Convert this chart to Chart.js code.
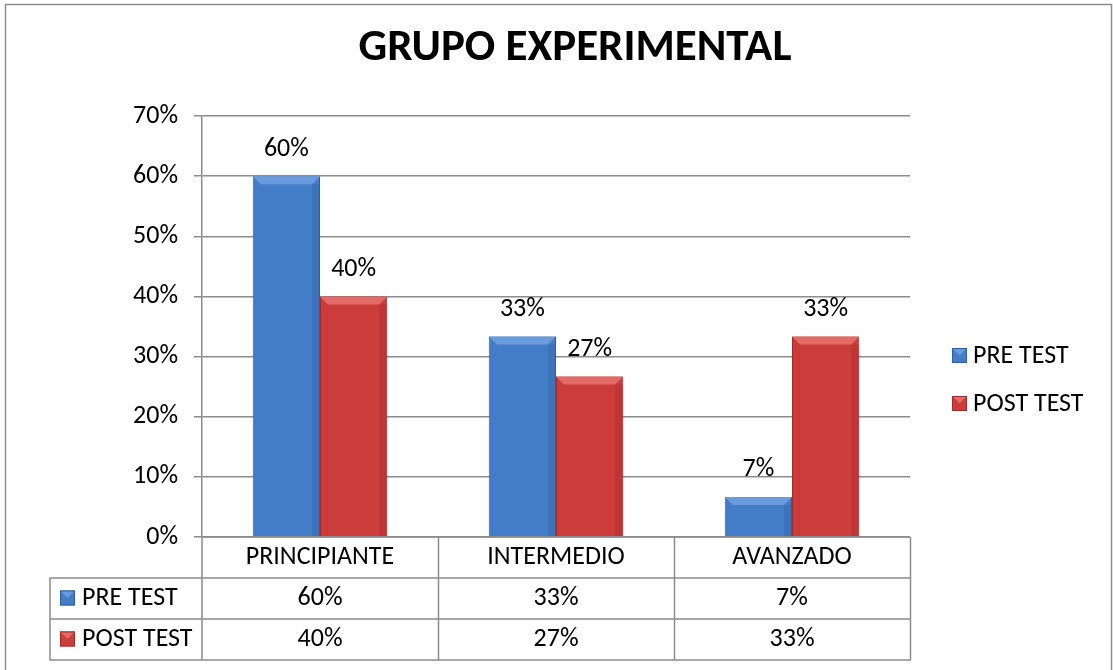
<!DOCTYPE html>
<html>
<head>
<meta charset="utf-8">
<script src="https://cdn.jsdelivr.net/npm/chart.js@4/dist/chart.umd.min.js"></script>
<style>
  html, body { margin: 0; padding: 0; background: #fff; }
  #wrap { width: 1113px; height: 670px; }
</style>
</head>
<body>
<div id="wrap"><canvas id="grupoChart" width="1113" height="670"></canvas></div>
<script>
// data
const categories = ['PRINCIPIANTE', 'INTERMEDIO', 'AVANZADO'];
const seriesNames = ['PRE TEST', 'POST TEST'];
const preTest = [60, 33.33, 6.67];
const postTest = [40, 26.67, 33.33];
const yTicks = [0, 10, 20, 30, 40, 50, 60, 70];
const titleText = 'GRUPO EXPERIMENTAL';

const FONT = 'Carlito, Lato, "Open Sans", sans-serif';
const TXT = 26;
const colors = {
    pre: { mid: '#437dc8', light: '#6a9bdc', dark: '#2f5e9f' },
    post: { mid: '#cc3c3a', light: '#e36a66', dark: '#9f2b2a' }
};
const lineGray = '#8c8c8c';

function pct(v) { return Math.round(v) + '%'; }

// horizontal gradient for each bar, darker at the sides
function barFill(c) {
    return function (ctx) {
        const el = ctx.element;
        if (!el || el.x === undefined) return c.mid;
        const w = el.width || 60;
        const g = ctx.chart.ctx.createLinearGradient(el.x - w / 2, 0, el.x + w / 2, 0);
        g.addColorStop(0, c.dark);
        g.addColorStop(0.1, c.mid);
        g.addColorStop(0.9, c.mid);
        g.addColorStop(1, c.dark);
        return g;
    };
}

// small bevel look on top of bars
function drawBevel(ctx, left, top, right, bottom, c) {
    const b = Math.min(8, (bottom - top) / 2);
    ctx.save();
    ctx.fillStyle = c.light;
    ctx.beginPath();
    ctx.moveTo(left, top);
    ctx.lineTo(right, top);
    ctx.lineTo(right - b, top + b);
    ctx.lineTo(left + b, top + b);
    ctx.closePath();
    ctx.fill();
    ctx.globalAlpha = 0.3;
    ctx.fillStyle = c.dark;
    ctx.fillRect(right - b, top + b, b, bottom - top - b);
    ctx.restore();
}

const framePlugin = {
    id: 'frame',
    beforeDraw(chart) {
        const ctx = chart.ctx;
        ctx.save();
        ctx.fillStyle = '#fff';
        ctx.fillRect(0, 0, chart.width, chart.height);
        ctx.strokeStyle = lineGray;
        ctx.lineWidth = 1.5;
        ctx.strokeRect(5.5, 4.5, chart.width - 7, chart.height + 10);
        ctx.font = 'bold 45px ' + FONT;
        ctx.fillStyle = '#000';
        ctx.textAlign = 'center';
        ctx.textBaseline = 'middle';
        ctx.fillText(titleText, 575, 49);
        ctx.restore();
    }
};

const bevelPlugin = {
    id: 'bevel',
    afterDatasetsDraw(chart) {
        const ctx = chart.ctx;
        chart.data.datasets.forEach(function (ds, i) {
            const c = i === 0 ? colors.pre : colors.post;
            chart.getDatasetMeta(i).data.forEach(function (bar) {
                const p = bar.getProps(['x', 'y', 'base', 'width'], true);
                drawBevel(ctx, p.x - p.width / 2, p.y, p.x + p.width / 2, p.base, c);
            });
        });
    }
};

const labelPlugin = {
    id: 'barLabels',
    afterDatasetsDraw(chart) {
        const ctx = chart.ctx;
        ctx.save();
        ctx.font = TXT + 'px ' + FONT;
        ctx.fillStyle = '#000';
        ctx.textAlign = 'center';
        ctx.textBaseline = 'middle';
        chart.data.datasets.forEach(function (ds, i) {
            chart.getDatasetMeta(i).data.forEach(function (bar, j) {
                ctx.fillText(pct(ds.data[j]), bar.x, bar.y - 27);
            });
        });
        ctx.restore();
    }
};

function legendSwatch(ctx, x, y, s, c) {
    ctx.save();
    ctx.fillStyle = c.mid;
    ctx.fillRect(x, y, s, s);
    ctx.fillStyle = c.light;
    ctx.beginPath();
    ctx.moveTo(x, y);
    ctx.lineTo(x + s, y);
    ctx.lineTo(x + s / 2, y + s / 2);
    ctx.closePath();
    ctx.fill();
    ctx.strokeStyle = c.dark;
    ctx.lineWidth = 1;
    ctx.strokeRect(x + 0.5, y + 0.5, s - 1, s - 1);
    ctx.restore();
}

const tablePlugin = {
    id: 'dataTable',
    afterDraw(chart) {
        const ctx = chart.ctx;
        const xs = chart.scales.x;
        const area = chart.chartArea;
        const rowH = 41;
        const top = area.bottom;
        const rows = [top, top + rowH, top + rowH * 2, top + rowH * 3];
        const left = 50;
        const colW = (area.right - area.left) / categories.length;

        ctx.save();
        ctx.strokeStyle = lineGray;
        ctx.lineWidth = 1.5;
        ctx.beginPath();
        ctx.moveTo(area.left, rows[0]); ctx.lineTo(area.right, rows[0]);
        for (let r = 1; r < rows.length; r++) {
            ctx.moveTo(left, rows[r]); ctx.lineTo(area.right, rows[r]);
        }
        ctx.moveTo(left, rows[1]); ctx.lineTo(left, rows[3]);
        ctx.moveTo(area.left, rows[0]); ctx.lineTo(area.left, rows[3]);
        for (let k = 1; k <= categories.length; k++) {
            const x = Math.round(area.left + colW * k) + 0.5;
            ctx.moveTo(x, rows[0]); ctx.lineTo(x, rows[3]);
        }
        ctx.stroke();

        ctx.font = TXT + 'px ' + FONT;
        ctx.fillStyle = '#000';
        ctx.textBaseline = 'middle';
        ctx.textAlign = 'center';
        categories.forEach(function (cat, j) {
            const cx = xs.getPixelForValue(j);
            ctx.fillText(cat, cx, rows[0] + rowH / 2);
            ctx.fillText(pct(preTest[j]), cx, rows[1] + rowH / 2);
            ctx.fillText(pct(postTest[j]), cx, rows[2] + rowH / 2);
        });
        ctx.textAlign = 'left';
        [colors.pre, colors.post].forEach(function (c, i) {
            const cy = rows[i + 1] + rowH / 2;
            legendSwatch(ctx, 60, cy - 8, 15, c);
            ctx.fillStyle = '#000';
            ctx.fillText(seriesNames[i], 82, cy);
        });

        // legend at the right
        [colors.pre, colors.post].forEach(function (c, i) {
            const cy = 356 + i * 48;
            legendSwatch(ctx, 952, cy - 8, 15, c);
            ctx.fillStyle = '#000';
            ctx.fillText(seriesNames[i], 973, cy);
        });
        ctx.restore();
    }
};

const ctx = document.getElementById('grupoChart').getContext('2d');
const grupoChart = new Chart(ctx, {
    type: 'bar',
    data: {
        labels: categories,
        datasets: [{
            label: seriesNames[0],
            data: preTest,
            backgroundColor: barFill(colors.pre),
            borderColor: colors.pre.dark,
            borderWidth: 1
        }, {
            label: seriesNames[1],
            data: postTest,
            backgroundColor: barFill(colors.post),
            borderColor: colors.post.dark,
            borderWidth: 1
        }]
    },
    options: {
        responsive: false,
        animation: false,
        layout: { padding: { left: 0, right: 203, top: 116, bottom: 133 } },
        categoryPercentage: 0.57,
        barPercentage: 1,
        plugins: {
            legend: { display: false },
            tooltip: { enabled: false },
            title: { display: false }
        },
        scales: {
            x: {
                ticks: { display: false },
                grid: { display: false, drawTicks: false },
                border: { display: false },
                afterFit(scale) { scale.height = 0; }
            },
            y: {
                min: 0,
                max: 70,
                afterBuildTicks(scale) { scale.ticks = yTicks.map(v => ({ value: v })); },
                afterFit(scale) { scale.width = 202; },
                ticks: {
                    color: '#000',
                    padding: 16,
                    font: { family: FONT, size: TXT },
                    callback: v => v + '%'
                },
                grid: { color: lineGray, lineWidth: 1.5, tickLength: 8 },
                border: { color: lineGray, width: 1.5 }
            }
        }
    },
    plugins: [framePlugin, bevelPlugin, labelPlugin, tablePlugin]
});
</script>
</body>
</html>
